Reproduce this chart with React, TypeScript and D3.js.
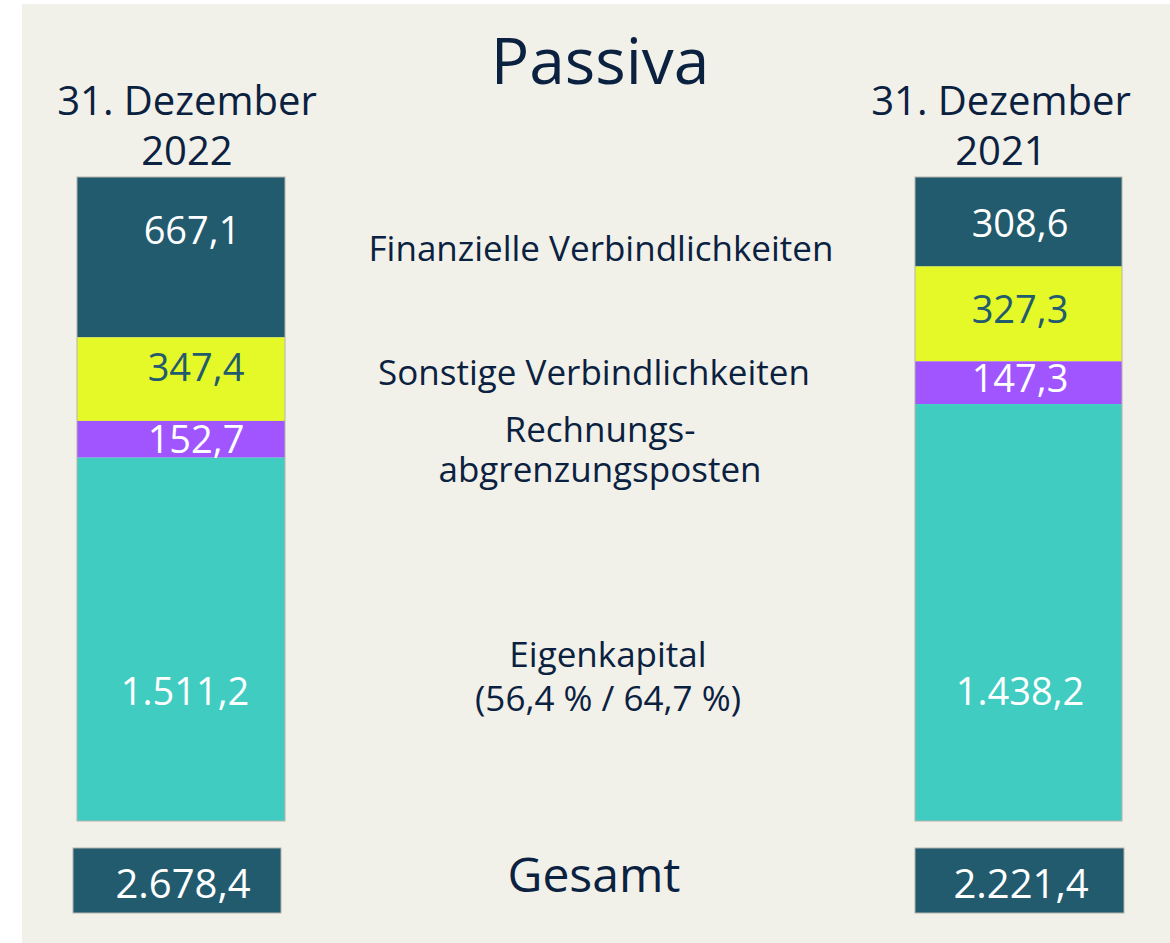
import React from "react";
import * as d3 from "d3";

// ---- data ----
const periods = ["31. Dezember\n2022", "31. Dezember\n2021"];
const categories = [
  "Finanzielle Verbindlichkeiten",
  "Sonstige Verbindlichkeiten",
  "Rechnungs-\nabgrenzungsposten",
  "Eigenkapital\n(56,4 % / 64,7 %)",
];
const values2022 = [667.1, 347.4, 152.7, 1511.2];
const values2021 = [308.6, 327.3, 147.3, 1438.2];
const totals = [2678.4, 2221.4];
const title = "Passiva";
const totalLabel = "Gesamt";

// ---- style ----
const W = 1170;
const H = 943;
const BG = "#f1f0e9";
const TEXT = "#0b2140";
const colors = ["#225b6e", "#e5f828", "#a155fe", "#40ccc1"];
const labelColors = ["#ffffff", "#225b6e", "#ffffff", "#ffffff"];
const FONT = "'Open Sans', 'Noto Sans', sans-serif";

const locale = d3.formatLocale({
  decimal: ",",
  thousands: ".",
  grouping: [3],
  currency: ["", " €"],
});
const fmt = locale.format(",.1f");

const barTop = 177;
const barBottom = 821;
const bars = [
  { x0: 77, x1: 285, values: values2022, total: totals[0], labelCx: 194, headCx: 187, boxX0: 73, boxX1: 281, totalCx: 183 },
  { x0: 915, x1: 1122, values: values2021, total: totals[1], labelCx: 1020, headCx: 1001, boxX0: 915, boxX1: 1124, totalCx: 1021 },
];
// nudges of value labels relative to segment middle (layout)
const valueDy = [
  [-26, -11, 0, 52],
  [2, -4, -4, 79],
];
const valueDx = [
  [-2, 2, 2, -9],
  [0, 0, 0, 0],
];

export default function App() {
  return (
    <svg
      width={W}
      height={H}
      style={{ position: "absolute", left: 0, top: 0, fontFamily: FONT }}
    >
      <rect x={0} y={0} width={W} height={H} fill="#ffffff" />
      <rect x={22} y={4} width={W - 22} height={H - 4} fill={BG} />

      <text x={600} y={84} textAnchor="middle" fontSize={64} fill={TEXT}>
        {title}
      </text>

      {bars.map((b, bi) => {
        const y = d3.scaleLinear().domain([0, b.total]).range([barTop, barBottom]);
        const cum = d3.cumsum(b.values);
        const lines = periods[bi].split("\n");
        return (
          <g key={bi}>
            {lines.map((l, li) => (
              <text key={li} x={b.headCx} y={115 + li * 50} textAnchor="middle" fontSize={40} fill={TEXT}>
                {l}
              </text>
            ))}
            {b.values.map((v, i) => {
              const ya = y(cum[i] - v);
              const yb = y(cum[i]);
              return (
                <rect key={i} x={b.x0} y={ya} width={b.x1 - b.x0} height={yb - ya} fill={colors[i]} />
              );
            })}
            <rect x={b.x0} y={barTop} width={b.x1 - b.x0} height={barBottom - barTop} fill="none" stroke="#b4b4ae" strokeWidth={1} />
            {b.values.map((v, i) => {
              const mid = (y(cum[i] - v) + y(cum[i])) / 2;
              return (
                <text
                  key={"l" + i}
                  x={b.labelCx + valueDx[bi][i]}
                  y={mid + valueDy[bi][i]}
                  dy="0.35em"
                  textAnchor="middle"
                  fontSize={38}
                  fill={labelColors[i]}
                >
                  {fmt(v)}
                </text>
              );
            })}
            <rect x={b.boxX0} y={848} width={b.boxX1 - b.boxX0} height={65} fill={colors[0]} stroke="#b4b4ae" strokeWidth={1} />
            <text x={b.totalCx} y={898} textAnchor="middle" fontSize={40} fill="#ffffff">
              {fmt(b.total)}
            </text>
          </g>
        );
      })}

      {(() => {
        const positions = [
          { cx: 601, y: 261, lh: 0 },
          { cx: 594, y: 385, lh: 0 },
          { cx: 600, y: 442, lh: 40 },
          { cx: 608, y: 667, lh: 44 },
        ];
        return categories.map((c, i) =>
          c.split("\n").map((l, li) => (
            <text
              key={i + "-" + li}
              x={positions[i].cx}
              y={positions[i].y + li * positions[i].lh}
              textAnchor="middle"
              fontSize={35}
              fill={TEXT}
            >
              {l}
            </text>
          ))
        );
      })()}

      <text x={594} y={892} textAnchor="middle" fontSize={48} fill={TEXT}>
        {totalLabel}
      </text>
    </svg>
  );
}
